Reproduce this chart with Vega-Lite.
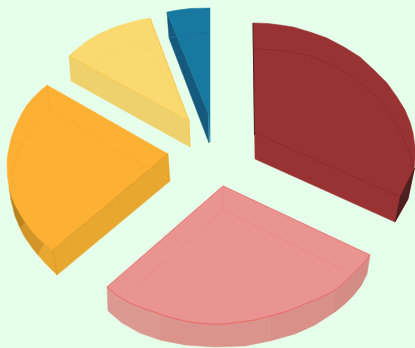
{
  "$schema": "https://vega.github.io/schema/vega-lite/v6.json",
  "width": 415,
  "height": 348,
  "padding": 0,
  "autosize": "none",
  "background": "#E6FFEA",
  "view": {"stroke": null},
  "projection": {"type": "identity", "scale": 1, "translate": [0, 0]},
  "datasets": {
    "faces": [
      {"type": "Feature", "properties": {"part": "blue side"}, "geometry": {"type": "Polygon", "coordinates": [[[167,12],[208,113],[209,143],[169,38],[167,12]]]}},
      {"type": "Feature", "properties": {"part": "blue top"}, "geometry": {"type": "Polygon", "coordinates": [[[167,12],[178,10],[190,8.5],[210,8],[210,142],[208,113],[167,12]]]}},
      {"type": "Feature", "properties": {"part": "yellow side"}, "geometry": {"type": "Polygon", "coordinates": [[[69,56],[189,121],[190,147],[71,81],[69,56]]]}},
      {"type": "Feature", "properties": {"part": "yellow top"}, "geometry": {"type": "Polygon", "coordinates": [[[150,18],[139,20],[128,23],[118,26],[110,29],[103,32],[97,35],[92,38],[87,41],[82,45],[78,48],[73,52],[69,56],[189,121],[150,18]]]}},
      {"type": "Feature", "properties": {"part": "orange rim a"}, "geometry": {"type": "Polygon", "coordinates": [[[9,187],[11,200],[15,216],[20,228],[35,215],[25,190],[9,187]]]}},
      {"type": "Feature", "properties": {"part": "orange rim b"}, "geometry": {"type": "Polygon", "coordinates": [[[20,228],[24,236],[33,249],[38,255],[50,235],[35,215],[20,228]]]}},
      {"type": "Feature", "properties": {"part": "orange rim c"}, "geometry": {"type": "Polygon", "coordinates": [[[38,255],[45,263],[57,275],[60,240],[50,235],[38,255]]]}},
      {"type": "Feature", "properties": {"part": "orange side"}, "geometry": {"type": "Polygon", "coordinates": [[[53,250],[168,153],[170,181],[57,275],[53,250]]]}},
      {"type": "Feature", "properties": {"part": "orange top"}, "geometry": {"type": "Polygon", "coordinates": [[[47,85],[168,154],[53,250],[45,244],[38,238],[31,230],[25,222],[20,214],[15,205],[11,195],[9,187],[7.5,176],[7,165],[7.5,156],[9,148],[11,139],[14,130],[18,121],[22,113],[27,105],[33,98],[40,91],[47,85]]]}},
      {"type": "Feature", "properties": {"part": "pink side a"}, "geometry": {"type": "Polygon", "coordinates": [[[107,287],[108,311],[122,323],[140,333],[160,340],[160,314],[130,303],[107,287]]]}},
      {"type": "Feature", "properties": {"part": "pink side b"}, "geometry": {"type": "Polygon", "coordinates": [[[160,314],[160,340],[185,345],[215,347],[245,346],[270,341],[270,316],[240,322],[210,324],[185,321],[160,314]]]}},
      {"type": "Feature", "properties": {"part": "pink side c"}, "geometry": {"type": "Polygon", "coordinates": [[[270,316],[270,341],[295,334],[315,325],[335,312],[335,290],[320,298],[305,304],[270,316]]]}},
      {"type": "Feature", "properties": {"part": "pink side d"}, "geometry": {"type": "Polygon", "coordinates": [[[335,290],[335,312],[345,304],[353,296],[361,286],[367,274],[370,255],[363,264],[355,272],[335,290]]]}},
      {"type": "Feature", "properties": {"part": "pink top"}, "geometry": {"type": "Polygon", "coordinates": [[[223,186],[370,255],[363,264],[355,272],[345,282],[335,290],[320,298],[305,304],[288,311],[270,316],[255,320],[240,322],[225,324],[210,324],[197,323],[185,321],[172,318],[160,314],[145,309],[130,303],[118,296],[107,287],[223,186]]]}},
      {"type": "Feature", "properties": {"part": "red top"}, "geometry": {"type": "Polygon", "coordinates": [[[253,23],[268,23.5],[280,25],[293,27],[310,32],[327,38],[344,47],[360,57],[374,70],[387,83],[397,97],[405,110],[410,122],[413,133],[415,147],[415,160],[414,170],[408,199],[395,222],[255,159],[253,23]]]}},
      {"type": "Feature", "properties": {"part": "red rim"}, "geometry": {"type": "Polygon", "coordinates": [[[414.5,168],[408,199],[395,222],[400,197],[414.5,168]]]}}
    ],
    "edges": [
      {"type": "Feature", "properties": {"part": "blue line"}, "geometry": {"type": "LineString", "coordinates": [[169,38],[190,34],[210,33]]}},
      {"type": "Feature", "properties": {"part": "yellow line"}, "geometry": {"type": "LineString", "coordinates": [[189,121],[147,42],[125,47],[110,53],[97,60],[72,81]]}},
      {"type": "Feature", "properties": {"part": "yellow edge"}, "geometry": {"type": "LineString", "coordinates": [[150,18],[189,121],[190,147]]}},
      {"type": "Feature", "properties": {"part": "yellow edge"}, "geometry": {"type": "LineString", "coordinates": [[69,56],[189,121]]}},
      {"type": "Feature", "properties": {"part": "orange line"}, "geometry": {"type": "LineString", "coordinates": [[47,85],[49,110],[168,179]]}},
      {"type": "Feature", "properties": {"part": "orange line"}, "geometry": {"type": "LineString", "coordinates": [[49,110],[33,125],[22,143],[14,165],[11,185]]}},
      {"type": "Feature", "properties": {"part": "orange edge"}, "geometry": {"type": "LineString", "coordinates": [[168,154],[53,250],[57,275]]}},
      {"type": "Feature", "properties": {"part": "pink line"}, "geometry": {"type": "LineString", "coordinates": [[223,186],[223,210],[347,272]]}},
      {"type": "Feature", "properties": {"part": "pink line"}, "geometry": {"type": "LineString", "coordinates": [[223,210],[127,294]]}},
      {"type": "Feature", "properties": {"part": "pink edge"}, "geometry": {"type": "LineString", "coordinates": [[107,287],[118,296],[130,303],[145,309],[160,314],[172,318],[185,321],[197,323],[210,324],[225,324],[240,322],[255,320],[270,316],[288,311],[305,304],[320,298],[335,290],[345,282],[355,272],[363,264],[370,255]]}},
      {"type": "Feature", "properties": {"part": "pink outline"}, "geometry": {"type": "LineString", "coordinates": [[107,287],[223,186],[370,255]]}},
      {"type": "Feature", "properties": {"part": "red line"}, "geometry": {"type": "LineString", "coordinates": [[253,49],[280,50],[310,56],[335,66],[355,79],[378,98],[397,125],[409,150],[414,170]]}},
      {"type": "Feature", "properties": {"part": "red line"}, "geometry": {"type": "LineString", "coordinates": [[255,133],[400,197]]}},
      {"type": "Feature", "properties": {"part": "red dark"}, "geometry": {"type": "LineString", "coordinates": [[253,23],[254.5,135]]}}
    ]
  },
  "layer": [
    {
      "data": {"name": "faces"},
      "mark": {"type": "geoshape", "strokeWidth": 0.5},
      "encoding": {
        "fill": {
          "field": "properties.part", "type": "nominal", "legend": null,
          "scale": {
            "domain": ["blue side","blue top","yellow side","yellow top","orange rim a","orange rim b","orange rim c","orange side","orange top","pink side a","pink side b","pink side c","pink side d","pink top","red top","red rim"],
            "range": ["#155A7C","#17799F","#EED06D","#FADA70","#B8831F","#D49528","#E8A82F","#E8A82F","#FCB034","#DC9992","#DB948C","#D89088","#D38D85","#E99490","#993333","#4F1F20"]
          }
        },
        "stroke": {
          "field": "properties.part", "type": "nominal", "legend": null,
          "scale": {
            "domain": ["blue side","blue top","yellow side","yellow top","orange rim a","orange rim b","orange rim c","orange side","orange top","pink side a","pink side b","pink side c","pink side d","pink top","red top","red rim"],
            "range": ["#155A7C","#17799F","#EED06D","#FADA70","#B8831F","#D49528","#E8A82F","#E8A82F","#FCB034","#DC9992","#DB948C","#D89088","#D38D85","#E99490","#993333","#4F1F20"]
          }
        }
      }
    },
    {
      "data": {"name": "edges"},
      "mark": {"type": "geoshape", "filled": false, "strokeWidth": 1},
      "encoding": {
        "stroke": {
          "field": "properties.part", "type": "nominal", "legend": null,
          "scale": {
            "domain": ["blue line","yellow line","yellow edge","orange line","orange edge","pink line","pink edge","pink outline","red line","red dark"],
            "range": ["#1A7297","#F8D565","#F9C94E","#F8AC33","#DD9C28","#E68987","#E86A66","#E67F7C","#8A2B2C","#4F2020"]
          }
        }
      }
    }
  ],
  "resolve": {"scale": {"fill": "independent", "stroke": "independent"}}
}
